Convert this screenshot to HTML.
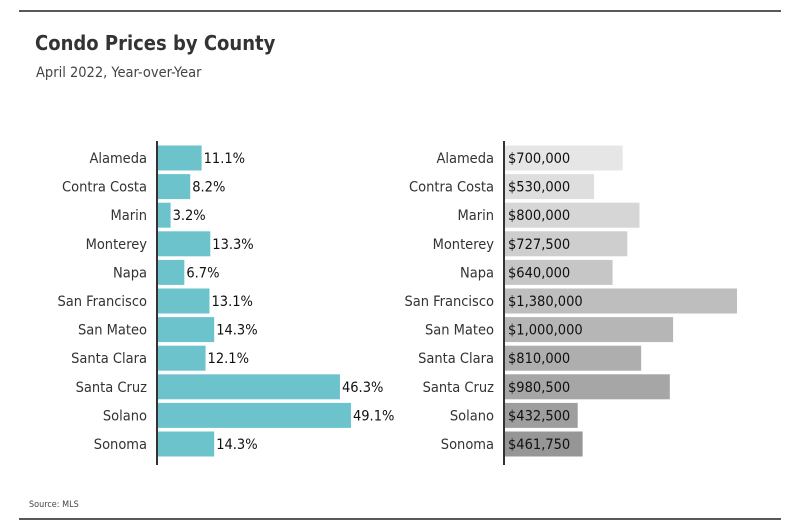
<!DOCTYPE html>
<html><head><meta charset="utf-8"><style>
html,body{margin:0;padding:0;background:#fff;}
svg{display:block;font-family:"DejaVu Sans Condensed","Liberation Sans Narrow","Liberation Sans",sans-serif;}
</style></head><body>
<svg id="chart" width="800" height="531" viewBox="0 0 800 531">
<line x1="19" y1="11" x2="781" y2="11" stroke="#222" stroke-width="1.5"/>
<text x="35" y="50" font-weight="bold" font-size="20" fill="#333">Condo Prices by County</text>
<text x="36" y="77" font-size="14.5" fill="#444">April 2022, Year-over-Year</text>
<g id="left"></g>
<g id="right"></g>
<text x="29" y="507" font-size="9" fill="#444">Source: MLS</text>
<line x1="19" y1="519" x2="781" y2="519" stroke="#222" stroke-width="1.5"/>
</svg>
<script>
const counties = ["Alameda","Contra Costa","Marin","Monterey","Napa","San Francisco","San Mateo","Santa Clara","Santa Cruz","Solano","Sonoma"];
const yoyChange = [11.1,8.2,3.2,13.3,6.7,13.1,14.3,12.1,46.3,49.1,14.3];
const medianPrice = [700000,530000,800000,727500,640000,1380000,1000000,810000,980500,432500,461750];
const priceLabels = ["$700,000","$530,000","$800,000","$727,500","$640,000","$1,380,000","$1,000,000","$810,000","$980,500","$432,500","$461,750"];

const NS = "http://www.w3.org/2000/svg";
function mk(tag, attrs, parent){const e=document.createElementNS(NS,tag);for(const k in attrs)e.setAttribute(k,attrs[k]);parent.appendChild(e);return e;}
const rowTop = 145.5, rowStep = 28.6, barH = 25;
function yBand(i){return rowTop + i*rowStep;}
const xLeft = v => 158 + v*3.93;
const xRight = v => 505 + v*1.681e-4;

const L = document.getElementById('left');
const R = document.getElementById('right');
const n = counties.length;
counties.forEach((c,i)=>{
  const y = yBand(i);
  let t = mk('text',{x:147,y:y+barH/2+5,'text-anchor':'end','font-size':14.5,fill:'#333'},L);
  t.textContent = c;
  
  
  let b = mk('rect',{x:158,y:y,width:xLeft(yoyChange[i])-158,height:barH,fill:'#6cc3cc'},L);
  
  
  let v = mk('text',{x:xLeft(yoyChange[i])+2,y:y+barH/2+5,'font-size':14.5,fill:'#111'},L);
  v.textContent = yoyChange[i].toFixed(1)+'%';
  
  

  let t2 = mk('text',{x:494,y:y+barH/2+5,'text-anchor':'end','font-size':14.5,fill:'#333'},R);
  t2.textContent = c;
  
  
  const g = Math.round(230 - (230-150)*i/(n-1));
  let b2 = mk('rect',{x:505,y:y,width:xRight(medianPrice[i])-505,height:barH,fill:`rgb(${g},${g},${g})`},R);
  
  
  let v2 = mk('text',{x:508,y:y+barH/2+5,'font-size':14.5,fill:'#111'},R);
  v2.textContent = priceLabels[i];
  
  
});
let a1 = mk('line',{x1:157,y1:141,x2:157,y2:465,stroke:'#333','stroke-width':2},L);


let a2 = mk('line',{x1:504,y1:141,x2:504,y2:465,stroke:'#333','stroke-width':2},R);


</script>
</body></html>
